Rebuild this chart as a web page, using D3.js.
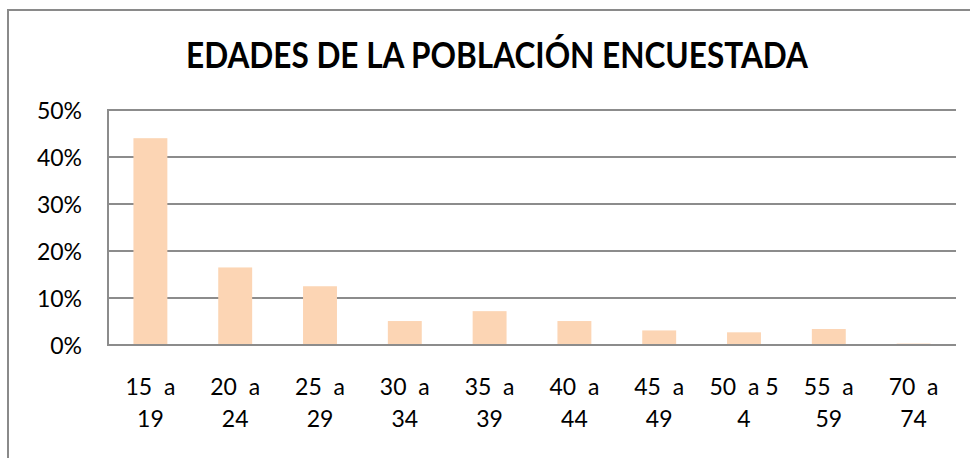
<!DOCTYPE html>
<html>
<head>
<meta charset="utf-8">
<script src="https://cdn.jsdelivr.net/npm/d3@7/dist/d3.min.js"></script>
<style>
  html, body { margin: 0; padding: 0; background: #fff; }
  svg { display: block; }
  text { font-family: Lato, "Open Sans", sans-serif; fill: #000; }
</style>
</head>
<body>
<svg id="chart" width="970" height="458"></svg>
<script>
const title = "EDADES DE LA POBLACIÓN ENCUESTADA";
const categories = ["15 a 19", "20 a 24", "25 a 29", "30 a 34", "35 a 39", "40 a 44", "45 a 49", "50 a 54", "55 a 59", "70 a 74"];
const categoryLines = [
  ["15  a", "19"], ["20  a", "24"], ["25  a", "29"], ["30  a", "34"], ["35  a", "39"],
  ["40  a", "44"], ["45  a", "49"], ["50  a 5", "4"], ["55  a", "59"], ["70  a", "74"]
];
const values = [0.44, 0.165, 0.125, 0.051, 0.072, 0.051, 0.031, 0.027, 0.034, 0.003];
const yTicks = [0, 0.1, 0.2, 0.3, 0.4, 0.5];

const svg = d3.select("#chart");
const plot = { left: 108, right: 956, top: 110, bottom: 345 };

// outer chart frame
svg.append("rect")
  .attr("x", 8).attr("y", 10).attr("width", 1000).attr("height", 500)
  .attr("fill", "none").attr("stroke", "#8a8a8a").attr("stroke-width", 2);

// title
const t = svg.append("text")
  .attr("x", 497).attr("y", 68)
  .attr("text-anchor", "middle")
  .attr("font-size", 37).attr("font-weight", "bold")
  .text(title);
const tl = t.node().getComputedTextLength();
if (Math.abs(tl - 622) > 4) t.attr("textLength", 622).attr("lengthAdjust", "spacingAndGlyphs");

const x = d3.scaleBand().domain(categories)
  .range([plot.left, plot.right]).paddingInner(0.6).paddingOuter(0.3);
const y = d3.scaleLinear().domain([0, 0.5]).range([plot.bottom, plot.top]);

// gridlines
svg.append("g").selectAll("line").data(yTicks).join("line")
  .attr("x1", plot.left).attr("x2", plot.right)
  .attr("y1", d => y(d)).attr("y2", d => y(d))
  .attr("stroke", "#8c8c8c").attr("stroke-width", 2);

// value axis line
svg.append("line")
  .attr("x1", plot.left).attr("x2", plot.left)
  .attr("y1", y(0.5) - 1).attr("y2", y(0) + 1)
  .attr("stroke", "#8c8c8c").attr("stroke-width", 2);

// bars
svg.append("g").selectAll("rect").data(values).join("rect")
  .attr("x", (d, i) => x(categories[i]))
  .attr("width", x.bandwidth())
  .attr("y", d => y(d))
  .attr("height", d => y(0) - y(d))
  .attr("fill", "#FCD5B4");

// baseline redraw on top
svg.append("line")
  .attr("x1", plot.left).attr("x2", plot.right)
  .attr("y1", y(0)).attr("y2", y(0))
  .attr("stroke", "#8c8c8c").attr("stroke-width", 2);

// y tick labels
svg.append("g").selectAll("text").data(yTicks).join("text")
  .attr("x", 82).attr("y", d => y(d) + 8.5)
  .attr("text-anchor", "end")
  .attr("font-size", 23)
  .text(d => d3.format(".0%")(d));

// x labels
const xl = svg.append("g").selectAll("text").data(categories).join("text")
  .attr("text-anchor", "middle")
  .attr("font-size", 23)
  .attr("xml:space", "preserve")
  .style("white-space", "pre");
xl.each(function(d, i) {
  const cx = x(d) + x.bandwidth() / 2;
  d3.select(this).selectAll("tspan").data(categoryLines[i]).join("tspan")
    .attr("x", cx)
    .attr("y", (s, j) => 395 + j * 32)
    .text(s => s);
});
</script>
</body>
</html>
